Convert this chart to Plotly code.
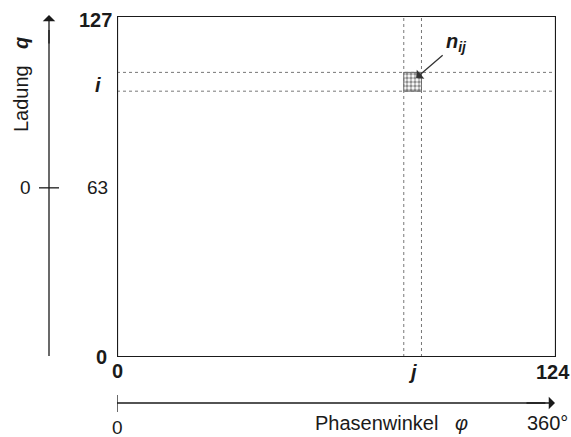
import plotly.graph_objects as go

# Data (channel grid)
x_range = [0, 124]          # phase channels
y_range = [0, 127]          # charge channels
y_mid = 63                  # charge zero channel
j_cell = [81, 86]           # phase channel j bounds
i_cell = [99, 106]          # charge channel i bounds
x_tick_labels = ["0", "j", "124"]
y_tick_labels = ["0", "63", "i", "127"]
phase_labels = ["0", "Phasenwinkel", "360°"]

W, H = 571, 437
L, R, T, B = 117, 15, 16, 80
pw, ph = W - L - R, H - T - B

def px_x(p):
    return (p - L) / pw

def px_y(p):
    return (H - B - p) / ph

FONT = "Liberation Sans, Arial, sans-serif"
INK = "#1a1a1a"
DOT = "#777777"

fig = go.Figure()

# shaded cell n_ij
fig.add_trace(go.Scatter(
    x=[j_cell[0], j_cell[1], j_cell[1], j_cell[0], j_cell[0]],
    y=[i_cell[0], i_cell[0], i_cell[1], i_cell[1], i_cell[0]],
    mode="lines", fill="toself",
    line=dict(color="#444", width=0.8),
    fillcolor="rgba(0,0,0,0)",
    fillpattern=dict(shape=".", size=4, solidity=0.55, fgcolor="#222", bgcolor="white"),
    hoverinfo="skip", showlegend=False,
))

shapes = []
# dotted grid lines through cell
for xv in j_cell:
    shapes.append(dict(type="line", xref="x", yref="y", x0=xv, x1=xv, y0=y_range[0], y1=y_range[1],
                       line=dict(color=DOT, width=1, dash="dot")))
for yv in i_cell:
    shapes.append(dict(type="line", xref="x", yref="y", x0=x_range[0], x1=x_range[1], y0=yv, y1=yv,
                       line=dict(color=DOT, width=1, dash="dot")))
# frame
shapes.append(dict(type="rect", xref="x", yref="y", x0=x_range[0], x1=x_range[1], y0=y_range[0], y1=y_range[1],
                   line=dict(color=INK, width=2.2)))
# left charge axis line and tick
shapes.append(dict(type="line", xref="paper", yref="paper", x0=px_x(49), x1=px_x(49), y0=px_y(356), y1=px_y(30),
                   line=dict(color=INK, width=1.3)))
shapes.append(dict(type="line", xref="paper", yref="y", x0=px_x(39), x1=px_x(59), y0=y_mid, y1=y_mid,
                   line=dict(color=INK, width=1.3)))
# bottom phase axis line and tick
shapes.append(dict(type="line", xref="x", yref="paper", x0=x_range[0], x1=x_range[0], y0=px_y(395), y1=px_y(412),
                   line=dict(color=INK, width=1.3)))
shapes.append(dict(type="line", xref="x", yref="paper", x0=x_range[0], x1=x_range[1] - 3, y0=px_y(403), y1=px_y(403),
                   line=dict(color=INK, width=1.3)))

ann = []
# arrow heads
ann.append(dict(xref="paper", yref="paper", x=px_x(49), y=px_y(15), ax=0, ay=30, text="", showarrow=True,
                arrowhead=1, arrowsize=1.6, arrowwidth=1.3, arrowcolor=INK, standoff=0))
ann.append(dict(xref="paper", yref="paper", x=px_x(555), y=px_y(403), ax=-30, ay=0, text="", showarrow=True,
                arrowhead=1, arrowsize=1.6, arrowwidth=1.3, arrowcolor=INK, standoff=0))
# n_ij arrow
ann.append(dict(xref="x", yref="y", x=84.5, y=103.9, ax=28, ay=-24, text="", showarrow=True,
                arrowhead=1, arrowsize=1.5, arrowwidth=1.3, arrowcolor="#333", standoff=0))
ann.append(dict(xref="x", yref="y", x=84.5, y=103.9, xshift=28, yshift=36, showarrow=False, xanchor="left",
                text="<b><i>n</i></b><sub><b><i>ij</i></b></sub>", font=dict(family=FONT, size=20, color=INK)))

BF = dict(family=FONT, size=20, color=INK)
RF = dict(family=FONT, size=19, color=INK)
LF = dict(family=FONT, size=20, color=INK)
# y labels
ann.append(dict(xref="x", yref="y", x=0, y=y_range[1], xanchor="right", yanchor="middle", xshift=-3, yshift=-4,
                text="<b>127</b>", showarrow=False, font=BF))
ann.append(dict(xref="x", yref="y", x=0, y=sum(i_cell) / 2, xanchor="right", yanchor="middle", xshift=-14, yshift=-3,
                text="<b><i>i</i></b>", showarrow=False, font=BF))
ann.append(dict(xref="x", yref="y", x=0, y=y_mid, xanchor="right", yanchor="middle", xshift=-7, yshift=0,
                text=y_tick_labels[1], showarrow=False, font=RF))
ann.append(dict(xref="x", yref="y", x=0, y=y_range[0], xanchor="right", yanchor="middle", xshift=-8, yshift=0,
                text="<b>0</b>", showarrow=False, font=BF))
# x labels
ann.append(dict(xref="x", yref="y", x=x_range[0], y=0, xanchor="center", yanchor="middle", yshift=-14,
                text="<b>0</b>", showarrow=False, font=BF))
ann.append(dict(xref="x", yref="y", x=sum(j_cell) / 2, y=0, xanchor="center", yanchor="middle", yshift=-15,
                text="<b><i>j</i></b>", showarrow=False, font=BF))
ann.append(dict(xref="x", yref="y", x=x_range[1], y=0, xanchor="center", yanchor="middle", xshift=-3, yshift=-15,
                text="<b>124</b>", showarrow=False, font=BF))
# outer charge axis labels
ann.append(dict(xref="paper", yref="y", x=px_x(25), y=y_mid, xanchor="center", yanchor="middle",
                text="0", showarrow=False, font=RF))
ann.append(dict(xref="paper", yref="paper", x=px_x(21), y=px_y(99), xanchor="center", yanchor="middle", textangle=-90,
                text="Ladung", showarrow=False, font=LF))
ann.append(dict(xref="paper", yref="paper", x=px_x(21), y=px_y(43), xanchor="center", yanchor="middle", textangle=-90,
                text="<b><i>q</i></b>", showarrow=False, font=LF))
# outer phase axis labels
ann.append(dict(xref="x", yref="paper", x=x_range[0], y=px_y(427), xanchor="center", yanchor="middle",
                text=phase_labels[0], showarrow=False, font=RF))
ann.append(dict(xref="paper", yref="paper", x=px_x(313), y=px_y(423), xanchor="left", yanchor="middle",
                text=phase_labels[1], showarrow=False, font=LF))
ann.append(dict(xref="paper", yref="paper", x=px_x(461), y=px_y(423), xanchor="center", yanchor="middle",
                text="<i>φ</i>", showarrow=False, font=LF))
ann.append(dict(xref="paper", yref="paper", x=px_x(570), y=px_y(423), xanchor="right", yanchor="middle",
                text=phase_labels[2], showarrow=False, font=LF))

fig.update_layout(
    width=W, height=H,
    margin=dict(l=L, r=R, t=T, b=B),
    paper_bgcolor="white", plot_bgcolor="white",
    xaxis=dict(range=x_range, visible=False, fixedrange=True),
    yaxis=dict(range=y_range, visible=False, fixedrange=True),
    shapes=shapes, annotations=ann,
    showlegend=False,
)

fig.write_html("out.html")
